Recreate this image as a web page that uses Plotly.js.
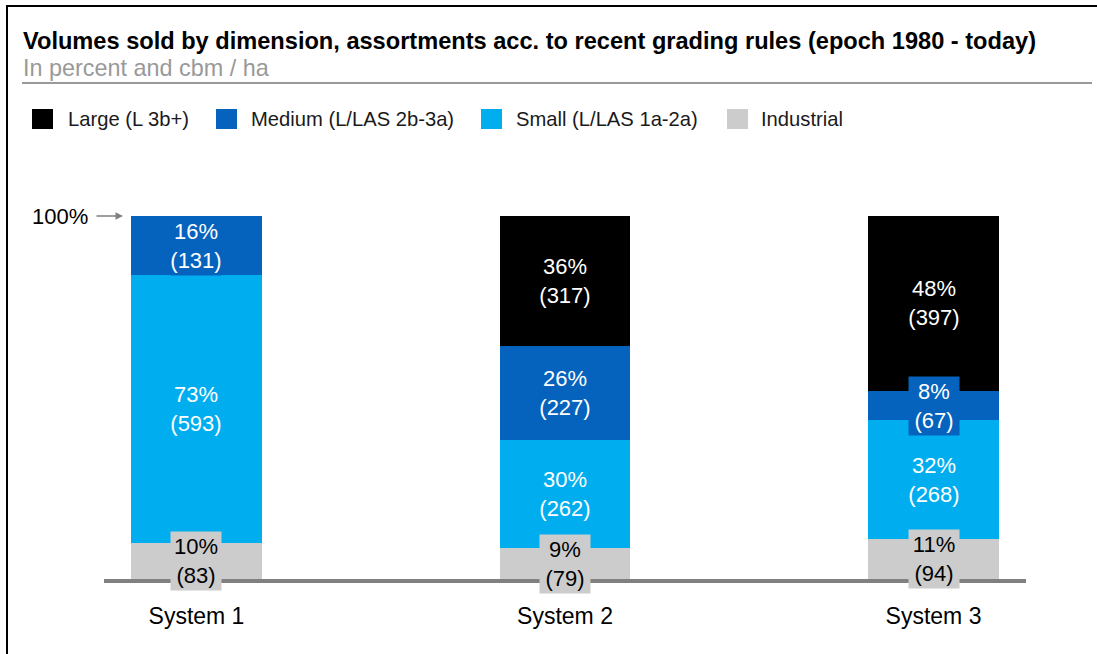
<!DOCTYPE html>
<html>
<head>
<meta charset="utf-8">
<script src="https://cdn.plot.ly/plotly-3.0.1.min.js"></script>
<style>html,body{margin:0;padding:0;background:#fff;}#chart{width:1097px;height:654px;}</style>
</head>
<body>
<div id="chart"></div>
<script>
// ---- data ----
const categories = ['System 1', 'System 2', 'System 3'];
const seriesNames = ['Large (L 3b+)', 'Medium (L/LAS 2b-3a)', 'Small (L/LAS 1a-2a)', 'Industrial'];
const largeCbm      = [0, 317, 397];
const mediumCbm     = [131, 227, 67];
const smallCbm      = [593, 262, 268];
const industrialCbm = [83, 79, 94];
const largePct      = [null, 36, 48];
const mediumPct     = [16, 26, 8];
const smallPct      = [73, 30, 32];
const industrialPct = [10, 9, 11];

// ---- styling ----
const FONT = 'Liberation Sans, Arial, Helvetica, sans-serif';
const colors = {large: '#000000', medium: '#0563BE', small: '#00AEEF', industrial: '#CCCCCC'};
const W = 1097, H = 654;
const L = 104, R = 1026, T = 216, B = 580;
const px = x => (x - L) / (R - L);
const py = y => (B - y) / (B - T);

// stacking order bottom -> top
const stack = [
  {name: seriesNames[3], vals: industrialCbm, pct: industrialPct, color: colors.industrial, txt: '#000000'},
  {name: seriesNames[2], vals: smallCbm, pct: smallPct, color: colors.small, txt: '#ffffff'},
  {name: seriesNames[1], vals: mediumCbm, pct: mediumPct, color: colors.medium, txt: '#ffffff'},
  {name: seriesNames[0], vals: largeCbm, pct: largePct, color: colors.large, txt: '#ffffff'}
];

const traces = stack.map(s => ({
  type: 'bar', name: s.name, x: categories, y: s.vals,
  marker: {color: s.color, line: {width: 0}}, width: 0.355,
  hoverinfo: 'skip', showlegend: false
}));

// totals for normalised label positions
const totals = categories.map((c, i) => stack.reduce((a, s) => a + s.vals[i], 0));
const annotations = [];
const cum = categories.map(() => 0);
stack.forEach(s => {
  categories.forEach((c, i) => {
    const share = s.vals[i] / totals[i] * 100;
    const mid = cum[i] + share / 2;
    cum[i] += share;
    if (!s.vals[i]) return;
    const lines = [s.pct[i] + '%', '(' + s.vals[i] + ')'];
    lines.forEach((t, k) => {
      annotations.push({
        x: c, y: mid, xref: 'x', yref: 'y', text: t, showarrow: false,
        yshift: k === 0 ? 14.5 : -14.5, width: 50, height: 29,
        bgcolor: s.color, borderpad: 0, font: {family: FONT, size: 22, color: s.txt}
      });
    });
  });
});

// 100% marker
annotations.push({
  x: px(123), xref: 'paper', y: 100, yref: 'y', text: '100%', showarrow: true,
  ax: -63, ay: 0, axref: 'pixel', ayref: 'pixel',
  arrowhead: 2, arrowsize: 1, arrowwidth: 1.5, arrowcolor: '#808080', startstandoff: 7, standoff: 0,
  font: {family: FONT, size: 22, color: '#000'}
});

// subtitle
annotations.push({
  x: px(21), y: py(68), xref: 'paper', yref: 'paper', xanchor: 'left', yanchor: 'middle',
  text: 'In percent and cbm / ha', showarrow: false, font: {family: FONT, size: 23.4, color: '#999999'}
});

// legend (custom)
const legendOrder = [
  {name: seriesNames[0], color: colors.large, sq: 32, tx: 66},
  {name: seriesNames[1], color: colors.medium, sq: 216, tx: 249},
  {name: seriesNames[2], color: colors.small, sq: 481, tx: 514},
  {name: seriesNames[3], color: colors.industrial, sq: 727, tx: 759}
];
const shapes = [];
legendOrder.forEach(l => {
  shapes.push({type: 'rect', xref: 'paper', yref: 'paper', x0: px(l.sq), x1: px(l.sq + 21), y0: py(109), y1: py(129),
    fillcolor: l.color, line: {width: 0}});
  annotations.push({x: px(l.tx), y: py(119), xref: 'paper', yref: 'paper', xanchor: 'left', yanchor: 'middle',
    text: l.name, showarrow: false, font: {family: FONT, size: 20.2, color: '#1a1a1a'}});
});

// baseline
shapes.push({type: 'line', xref: 'paper', yref: 'paper', x0: 0, x1: 1, y0: py(581), y1: py(581),
  line: {color: '#808080', width: 4}, layer: 'above'});
// rule under subtitle
shapes.push({type: 'line', xref: 'paper', yref: 'paper', x0: px(22), x1: px(1092), y0: py(83), y1: py(83),
  line: {color: '#999999', width: 2}});
// frame
shapes.push({type: 'rect', xref: 'paper', yref: 'paper', x0: px(7), x1: px(1120), y0: py(6), y1: py(700),
  line: {color: '#000000', width: 2}, fillcolor: 'rgba(0,0,0,0)'});

const layout = {
  width: W, height: H,
  margin: {l: L, r: W - R, t: T, b: H - B, pad: 0},
  paper_bgcolor: '#ffffff', plot_bgcolor: '#ffffff',
  barmode: 'stack', barnorm: 'percent',
  title: {text: '<b>Volumes sold by dimension, assortments acc. to recent grading rules (epoch 1980 - today)</b>',
    x: 23 / W, xanchor: 'left', xref: 'container', y: 1 - 41 / H, yanchor: 'middle', yref: 'container',
    font: {family: FONT, size: 23.6, color: '#000'}},
  xaxis: {type: 'category', range: [-0.251, 2.251], showgrid: false, zeroline: false, showline: false,
    ticks: 'outside', ticklen: 15, tickcolor: 'rgba(0,0,0,0)', tickfont: {family: FONT, size: 23, color: '#000'},
    fixedrange: true},
  yaxis: {range: [0, 100], visible: false, fixedrange: true},
  showlegend: false,
  annotations: annotations, shapes: shapes,
  font: {family: FONT}
};

Plotly.newPlot('chart', traces, layout, {displayModeBar: false, staticPlot: true});
</script>
</body>
</html>
